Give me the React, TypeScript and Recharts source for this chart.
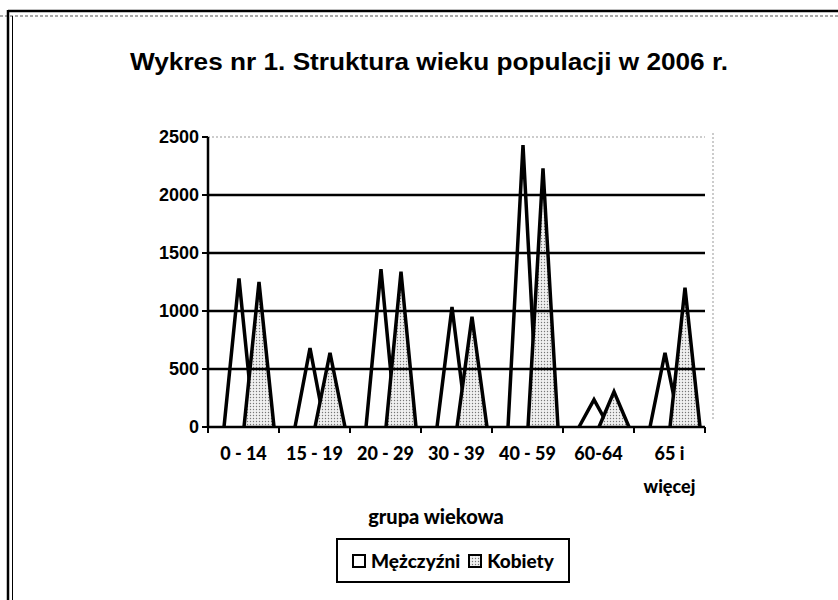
import { Bar, BarChart, XAxis, YAxis, ReferenceLine, Legend } from "recharts"

const categories = ["0 - 14", "15 - 19", "20 - 29", "30 - 39", "40 - 59", "60-64", "65 i więcej"]
const men = [1280, 680, 1360, 1035, 2430, 235, 640]
const women = [1250, 640, 1340, 950, 2230, 305, 1200]
const seriesNames = ["Mężczyźni", "Kobiety"]
const yTicks = [0, 500, 1000, 1500, 2000, 2500]
const gridTicks = [500, 1000, 1500, 2000]

const data = categories.map((group, i) => ({ group, m: men[i], k: women[i] }))

const W = 838
const H = 600
const Y_AXIS_W = 208
const MARGIN = { top: 137, right: 133, left: 0, bottom: 143 }
const PLOT_W = W - MARGIN.left - MARGIN.right - Y_AXIS_W

// pyramid-like spikes instead of flat bars
const Spike = (props: any) => {
  const { x, y, width, height, fill } = props
  if (!height) return null
  const cx = x + width * 0.75
  const half = width * 0.75
  const base = y + height
  return (
    <path
      d={`M${cx - half},${base} L${cx},${y} L${cx + half},${base}`}
      fill={fill}
      stroke="#000"
      strokeWidth={3.5}
    />
  )
}

const AgeTick = (props: any) => {
  const { x, y, payload, index } = props
  const band = PLOT_W / categories.length
  const value: string = payload.value
  const cut = value.lastIndexOf(" ")
  const lines = value.length > 8 ? [value.slice(0, cut), value.slice(cut + 1)] : [value]
  return (
    <g>
      <line x1={x - band / 2} x2={x - band / 2} y1={y} y2={y + 6} stroke="#000" strokeWidth={2} />
      {index === categories.length - 1 && (
        <line x1={x + band / 2} x2={x + band / 2} y1={y} y2={y + 6} stroke="#000" strokeWidth={2} />
      )}
      {lines.map((l, i) => (
        <text
          key={i}
          x={x}
          y={y + 33 + i * 33}
          textAnchor="middle"
          fontFamily="Lato"
          fontWeight="900"
          fontSize={18}
          fill="#000"
        >
          {l}
        </text>
      ))}
    </g>
  )
}

const LegendBox = ({ payload }: any) => {
  const items = [...(payload || [])].sort(
    (a: any, b: any) => seriesNames.indexOf(a.value) - seriesNames.indexOf(b.value)
  )
  return (
    <div
      style={{
        border: "2px solid #000",
        boxSizing: "border-box",
        width: 234,
        height: 45,
        display: "flex",
        alignItems: "center",
        justifyContent: "center",
        gap: 8,
        fontFamily: "Lato",
        fontWeight: 900,
        fontSize: 19,
        color: "#000",
      }}
    >
      {items.map((p: any) => (
        <span key={p.value} style={{ display: "flex", alignItems: "center", gap: 5 }}>
          <svg width={14} height={14}>
            <rect x={1} y={1} width={12} height={12} fill={p.color} stroke="#000" strokeWidth={2} />
          </svg>
          {p.value}
        </span>
      ))}
    </div>
  )
}

export default function App() {
  return (
    <div style={{ position: "absolute", left: 0, top: 0, width: W, height: H, background: "#fff" }}>
      <BarChart width={W} height={H} data={data} margin={MARGIN} barGap={0} barSize={20}>
        <defs>
          <pattern id="dots" width={3} height={3} patternUnits="userSpaceOnUse">
            <rect width={3} height={3} fill="#f0f0f0" />
            <circle cx={1.5} cy={1.5} r={0.7} fill="#777" />
          </pattern>
        </defs>
        {gridTicks.map((v) => (
          <ReferenceLine key={v} y={v} stroke="#000" strokeWidth={2.5} />
        ))}
        <ReferenceLine y={2500} stroke="#999" strokeDasharray="2 2" />
        <XAxis
          dataKey="group"
          height={30}
          tickSize={0}
          tickMargin={0}
          tickLine={false}
          axisLine={{ stroke: "#000", strokeWidth: 2.5 }}
          tick={<AgeTick />}
          interval={0}
        />
        <YAxis
          width={Y_AXIS_W}
          domain={[0, 2500]}
          ticks={yTicks}
          tickSize={6}
          tickMargin={3}
          axisLine={{ stroke: "#000", strokeWidth: 2.5 }}
          tickLine={{ stroke: "#000", strokeWidth: 2 }}
          tick={{ fill: "#000", fontSize: 18, fontWeight: "bold", fontFamily: "Liberation Sans" }}
        />
        <Legend
          layout="horizontal"
          verticalAlign="middle"
          align="center"
          wrapperStyle={{ left: 336, top: 538, width: 234, height: 45 }}
          content={<LegendBox />}
        />
        <Bar dataKey="m" name="Mężczyźni" fill="#fff" shape={<Spike />} isAnimationActive={false} />
        <Bar dataKey="k" name="Kobiety" fill="url(#dots)" shape={<Spike />} isAnimationActive={false} />
      </BarChart>
      <svg width={W} height={H} style={{ position: "absolute", left: 0, top: 0, pointerEvents: "none" }}>
        <line x1={0} x2={W} y1={16} y2={16} stroke="#555" strokeWidth={1} strokeDasharray="3 2" />
        <line x1={8} x2={W} y1={11} y2={11} stroke="#000" strokeWidth={2.5} />
        <line x1={8} x2={8} y1={10} y2={H} stroke="#000" strokeWidth={2.5} />
        <line x1={12.5} x2={12.5} y1={16} y2={H} stroke="#000" strokeWidth={1} />
        <line x1={713} x2={713} y1={133} y2={421} stroke="#999" strokeWidth={1} strokeDasharray="2 2" />
        <text
          x={130}
          y={70}
          textLength={598}
          lengthAdjust="spacingAndGlyphs"
          fontFamily="Liberation Sans"
          fontWeight="bold"
          fontSize={24}
          fill="#000"
        >
          Wykres nr 1. Struktura wieku populacji w 2006 r.
        </text>
        <text x={436} y={524} textAnchor="middle" fontFamily="Lato" fontWeight="900" fontSize={20} fill="#000">
          grupa wiekowa
        </text>
      </svg>
    </div>
  )
}
